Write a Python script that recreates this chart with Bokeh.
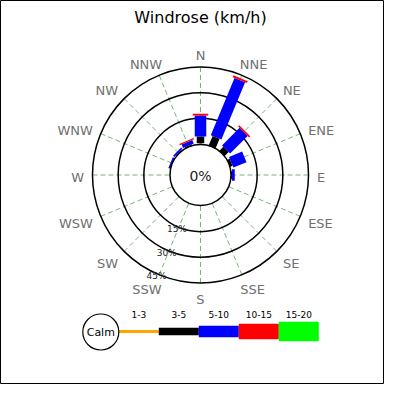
import numpy as np
from bokeh.plotting import figure
from bokeh.models import Range1d
from bokeh.core.properties import value
from bokeh.embed import file_html
from bokeh.resources import INLINE

# ---------------- data ----------------
directions = ["N", "NNE", "NE", "ENE", "E", "ESE", "SE", "SSE",
              "S", "SSW", "SW", "WSW", "W", "WNW", "NW", "NNW"]
speed_bins = ["1-3", "3-5", "5-10", "10-15", "15-20"]
bin_colors = ["#ffa500", "#000000", "#0000ff", "#ff0000", "#00ff00"]

freq_1_3 = [0.4, 0, 0, 0, 0, 0, 0, 0, 0, 0, 0, 0, 0, 0, 0, 0]
freq_3_5 = [4.0, 5.7, 3.0, 1.3, 0.3, 0, 0, 0, 0, 0, 0, 0, 0, 0, 0.2, 0.4]
freq_5_10 = [12.3, 36.2, 14.5, 8.3, 1.6, 0, 0, 0, 0, 0, 0, 0, 0, 0.8, 1.0, 2.2]
freq_10_15 = [1.0, 1.2, 1.0, 0, 0, 0, 0, 0, 0, 0, 0, 0, 0, 0, 0, 0.8]
freq_15_20 = [0, 0, 0, 0, 0, 0, 0, 0, 0, 0, 0, 0, 0, 0, 0, 0]
series = [freq_1_3, freq_3_5, freq_5_10, freq_10_15, freq_15_20]

calm_label = "0%"
ring_values = [15, 30, 45]
ring_labels = ["15%", "30%", "45%"]
title_text = "Windrose (km/h)"

# ---------------- geometry (pixels, centre of rose at origin) ----------------
W = H = 384
CX, CY = 200.0, 174.5          # centre in pixels
R0 = 31.0                       # calm circle radius / bar base
PX_PER_PCT = 25.67 / 15.0
bar_widths = [3.0, 7.5, 11.5, 15.5, 19.5]

def rad(pct):
    return R0 + pct * PX_PER_PCT

def to_data(xs, ys):
    return xs - CX, CY - ys

p = figure(width=W, height=H,
           x_range=Range1d(0 - CX, W - CX), y_range=Range1d(CY - H, CY),
           x_axis_type=None, y_axis_type=None,
           output_backend="svg", toolbar_location=None, min_border=0)
p.grid.visible = False
p.outline_line_color = "black"
p.outline_line_width = 1
p.background_fill_color = "white"
p.border_fill_color = "white"

thetas = np.deg2rad(np.arange(16) * 22.5)
r_outer = rad(ring_values[-1])

# radial dashed grid lines
p.segment(x0=R0 * np.sin(thetas), y0=R0 * np.cos(thetas),
          x1=r_outer * np.sin(thetas), y1=r_outer * np.cos(thetas),
          line_color="#5aa05a", line_alpha=0.8, line_width=1, line_dash="5 3")

# rings
for rv in ring_values:
    p.circle(x=[0], y=[0], radius=rad(rv), fill_color=None,
             line_color="black", line_width=1.5)

# stacked bars
cum = np.zeros(16)
for k, vals in enumerate(series):
    vals = np.array(vals, dtype=float)
    r0 = rad(cum)
    r1 = rad(cum + vals)
    cum = cum + vals
    mask = vals > 0
    if not mask.any():
        continue
    r0d = np.where(r0 <= R0 + 1e-9, R0 - 4, r0)
    rm = (r0d + r1) / 2
    h = r1 - r0d
    th = thetas[mask]
    p.rect(x=(rm * np.sin(thetas))[mask], y=(rm * np.cos(thetas))[mask],
           width=bar_widths[k], height=h[mask], angle=-th,
           fill_color=bin_colors[k], line_color=None)

# calm circle
p.circle(x=[0], y=[0], radius=30.5, fill_color="white",
         line_color="black", line_width=1.5)
p.text(x=[0], y=[-1], text=[calm_label], text_align="center", text_baseline="middle",
       text_font=value("DejaVu Sans"), text_font_size="14px", text_color="#222222")

# direction labels (pushed outward by half their text width)
LABEL_PX = 13.0
glyph_em = {"N": 0.748, "E": 0.632, "S": 0.635, "W": 0.989}
half_w = np.array([LABEL_PX * sum(glyph_em[c] for c in d) / 2 for d in directions])
s, c = np.sin(thetas), np.cos(thetas)
f = np.minimum(1.0, 1.6 * np.abs(s))
lab_x = 116.5 * s + np.sign(np.round(s, 9)) * f * half_w
lab_y = 122.0 * c - 2.0
p.text(x=lab_x, y=lab_y, text=directions,
       text_align="center", text_baseline="middle",
       text_font=value("DejaVu Sans"), text_font_size="13px", text_color="#707070")

# ring percentage labels
la = np.deg2rad(203.5)
lr = np.array([rad(v) for v in ring_values]) + 2.5
p.text(x=lr * np.sin(la), y=lr * np.cos(la), text=ring_labels,
       text_align="center", text_baseline="middle",
       text_font=value("DejaVu Sans"), text_font_size="9px", text_color="#222222")

# title
tx, ty = to_data(np.array([200.0]), np.array([16.5]))
p.text(x=tx, y=ty, text=[title_text], text_align="center", text_baseline="middle",
       text_font=value("DejaVu Sans"), text_font_size="16px", text_color="black")

# legend
LX0, LY, SEG = 118.3, 331.0, 40.0
xs = LX0 + SEG * (np.arange(5) + 0.5)
lx, ly = to_data(xs, np.full(5, LY))
p.rect(x=lx, y=ly, width=SEG, height=bar_widths, fill_color=bin_colors, line_color=None)
lbx, lby = to_data(xs, np.full(5, 314.0))
p.text(x=lbx, y=lby, text=speed_bins, text_align="center", text_baseline="middle",
       text_font=value("DejaVu Sans"), text_font_size="9px", text_color="black")
cx_, cy_ = to_data(np.array([100.3]), np.array([331.5]))
p.circle(x=cx_, y=cy_, radius=18, fill_color="white", line_color="black", line_width=1.2)
p.text(x=cx_, y=cy_, text=["Calm"], text_align="center", text_baseline="middle",
       text_font=value("DejaVu Sans"), text_font_size="11px", text_color="black")

open("out.html", "w").write(file_html(p, INLINE))
